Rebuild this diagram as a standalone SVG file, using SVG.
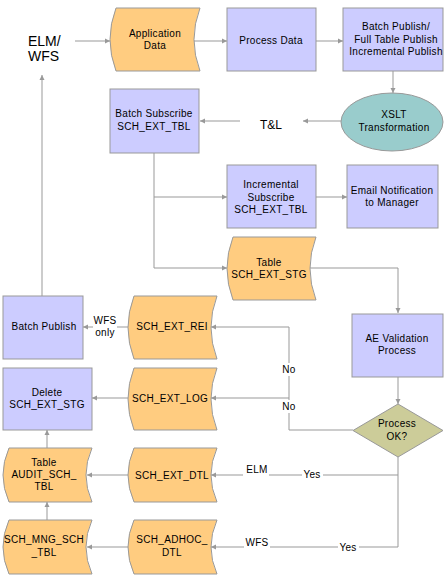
<svg xmlns="http://www.w3.org/2000/svg" width="444" height="576" viewBox="0 0 444 576">
<defs>
<marker id="ah" markerUnits="userSpaceOnUse" markerWidth="6" markerHeight="6" refX="5" refY="3" orient="auto">
<path d="M0,0.5 L5,3 L0,5.5 Z" fill="#999999"/>
</marker>
<style>
.box{fill:#CCCCFF;stroke:#999999;stroke-width:1}
.data{fill:#FFCC80;stroke:#999999;stroke-width:1}
.ell{fill:#99CCCC;stroke:#999999;stroke-width:1}
.dia{fill:#CCCC99;stroke:#999999;stroke-width:1}
.c{fill:none;stroke:#999999;stroke-width:1}
.a{fill:none;stroke:#999999;stroke-width:1;marker-end:url(#ah)}
text{font-family:"Liberation Sans",Arial,sans-serif;font-size:10px;fill:#000;text-anchor:middle;letter-spacing:0.3px}
.big{font-size:14px;text-anchor:start;letter-spacing:0}
.tl{font-size:12px;letter-spacing:0}
.bg{fill:#FFFFFF}
</style>
</defs>
<rect width="444" height="576" fill="#FFFFFF"/>
<g id="connectors">
<path class="a" d="M75,41 H110"/>
<path class="a" d="M193,41 H227"/>
<path class="a" d="M316,41 H343"/>
<path class="a" d="M393,71 V93"/>
<path class="a" d="M341,121 H303"/>
<path class="a" d="M240,121 H200"/>
<path class="c" d="M154,153 V268"/>
<path class="a" d="M154,197 H227"/>
<path class="a" d="M154,268 H227"/>
<path class="a" d="M316,197 H347"/>
<path class="a" d="M310,268 H398 V313"/>
<path class="a" d="M398,377 V404"/>
<path class="a" d="M353,430 H289 V327 H211"/>
<path class="a" d="M289,398 H211"/>
<path class="a" d="M128,327 H83"/>
<path class="a" d="M128,398 H92"/>
<path class="a" d="M42,296 V75"/>
<path class="a" d="M47,448 V430"/>
<path class="a" d="M398,457 V547 H211"/>
<path class="a" d="M398,475 H211"/>
<path class="a" d="M128,475 H87"/>
<path class="a" d="M47,520 V502"/>
<path class="a" d="M128,547 H87"/>
<rect class="bg" x="93" y="315" width="24" height="24"/>
<text x="105" y="324">WFS</text>
<text x="105" y="336">only</text>
<rect class="bg" x="280" y="363" width="18" height="13"/>
<text x="289" y="373">No</text>
<rect class="bg" x="280" y="400" width="18" height="13"/>
<text x="289" y="410">No</text>
<rect class="bg" x="243" y="465" width="26" height="11"/>
<text x="257" y="473">ELM</text>
<rect class="bg" x="302" y="469" width="21" height="12"/>
<text x="312" y="478">Yes</text>
<rect class="bg" x="244" y="538" width="26" height="11"/>
<text x="257" y="546">WFS</text>
<rect class="bg" x="338" y="542" width="21" height="12"/>
<text x="348" y="551">Yes</text>
</g>
<g id="elm-wfs">
<text class="big" x="28" y="46">ELM/</text>
<text class="big" x="28" y="61">WFS</text>
</g>
<g id="application-data">
<path class="data" d="M116,8 H200 Q188,39.5 200,71 H116 Q104,39.5 116,8 Z"/>
<text x="155" y="37">Application</text>
<text x="155" y="49">Data</text>
</g>
<g id="process-data">
<rect class="box" x="227" y="8" width="89" height="63"/>
<text x="271" y="44">Process Data</text>
</g>
<g id="batch-publish-top">
<rect class="box" x="343" y="8" width="100" height="63"/>
<text x="396" y="30">Batch Publish/</text>
<text x="396" y="43">Full Table Publish</text>
<text x="396" y="55">Incremental Publish</text>
</g>
<g id="xslt">
<ellipse class="ell" cx="392" cy="122" rx="51" ry="29"/>
<text x="394" y="118">XSLT</text>
<text x="394" y="131">Transformation</text>
</g>
<g id="tl">
<text class="tl" x="271" y="129">T&amp;L</text>
</g>
<g id="batch-subscribe">
<rect class="box" x="110" y="89" width="89" height="64"/>
<text x="154" y="117">Batch Subscribe</text>
<text x="154" y="130">SCH_EXT_TBL</text>
</g>
<g id="incremental-subscribe">
<rect class="box" x="227" y="165" width="89" height="63"/>
<text x="271" y="188">Incremental</text>
<text x="271" y="201">Subscribe</text>
<text x="271" y="213">SCH_EXT_TBL</text>
</g>
<g id="email-notification">
<rect class="box" x="347" y="165" width="91" height="63"/>
<text x="392" y="194">Email Notification</text>
<text x="392" y="206">to Manager</text>
</g>
<g id="table-sch-ext-stg">
<path class="data" d="M233,237 H316 Q304,268.5 316,300 H233 Q221,268.5 233,237 Z"/>
<text x="269" y="266">Table</text>
<text x="269" y="278">SCH_EXT_STG</text>
</g>
<g id="ae-validation">
<rect class="box" x="352" y="314" width="91" height="63"/>
<text x="397" y="342">AE Validation</text>
<text x="397" y="354">Process</text>
</g>
<g id="process-ok">
<path class="dia" d="M398,404 L443,430.5 L398,457 L353,430.5 Z"/>
<text x="397" y="427">Process</text>
<text x="397" y="440">OK?</text>
</g>
<g id="batch-publish-left">
<rect class="box" x="3" y="296" width="80" height="63"/>
<text x="44" y="330">Batch Publish</text>
</g>
<g id="sch-ext-rei">
<path class="data" d="M134,296 H217 Q205,327.5 217,359 H134 Q122,327.5 134,296 Z"/>
<text x="172" y="330">SCH_EXT_REI</text>
</g>
<g id="delete-sch-ext-stg">
<rect class="box" x="3" y="368" width="89" height="62"/>
<text x="47" y="396">Delete</text>
<text x="47" y="408">SCH_EXT_STG</text>
</g>
<g id="sch-ext-log">
<path class="data" d="M134,368 H217 Q205,399 217,430 H134 Q122,399 134,368 Z"/>
<text x="170" y="402">SCH_EXT_LOG</text>
</g>
<g id="audit-sch-tbl">
<path class="data" d="M9,448 H92 Q80,475 92,502 H9 Q-3,475 9,448 Z"/>
<text x="44" y="466">Table</text>
<text x="44" y="478">AUDIT_SCH_</text>
<text x="44" y="490">TBL</text>
</g>
<g id="sch-ext-dtl">
<path class="data" d="M134,448 H217 Q205,475 217,502 H134 Q122,475 134,448 Z"/>
<text x="172" y="479">SCH_EXT_DTL</text>
</g>
<g id="sch-mng-sch-tbl">
<path class="data" d="M9,520 H92 Q80,547 92,574 H9 Q-3,547 9,520 Z"/>
<text x="44" y="543">SCH_MNG_SCH</text>
<text x="44" y="556">_TBL</text>
</g>
<g id="sch-adhoc-dtl">
<path class="data" d="M134,520 H217 Q205,547 217,574 H134 Q122,547 134,520 Z"/>
<text x="172" y="543">SCH_ADHOC_</text>
<text x="172" y="556">DTL</text>
</g>
</svg>
